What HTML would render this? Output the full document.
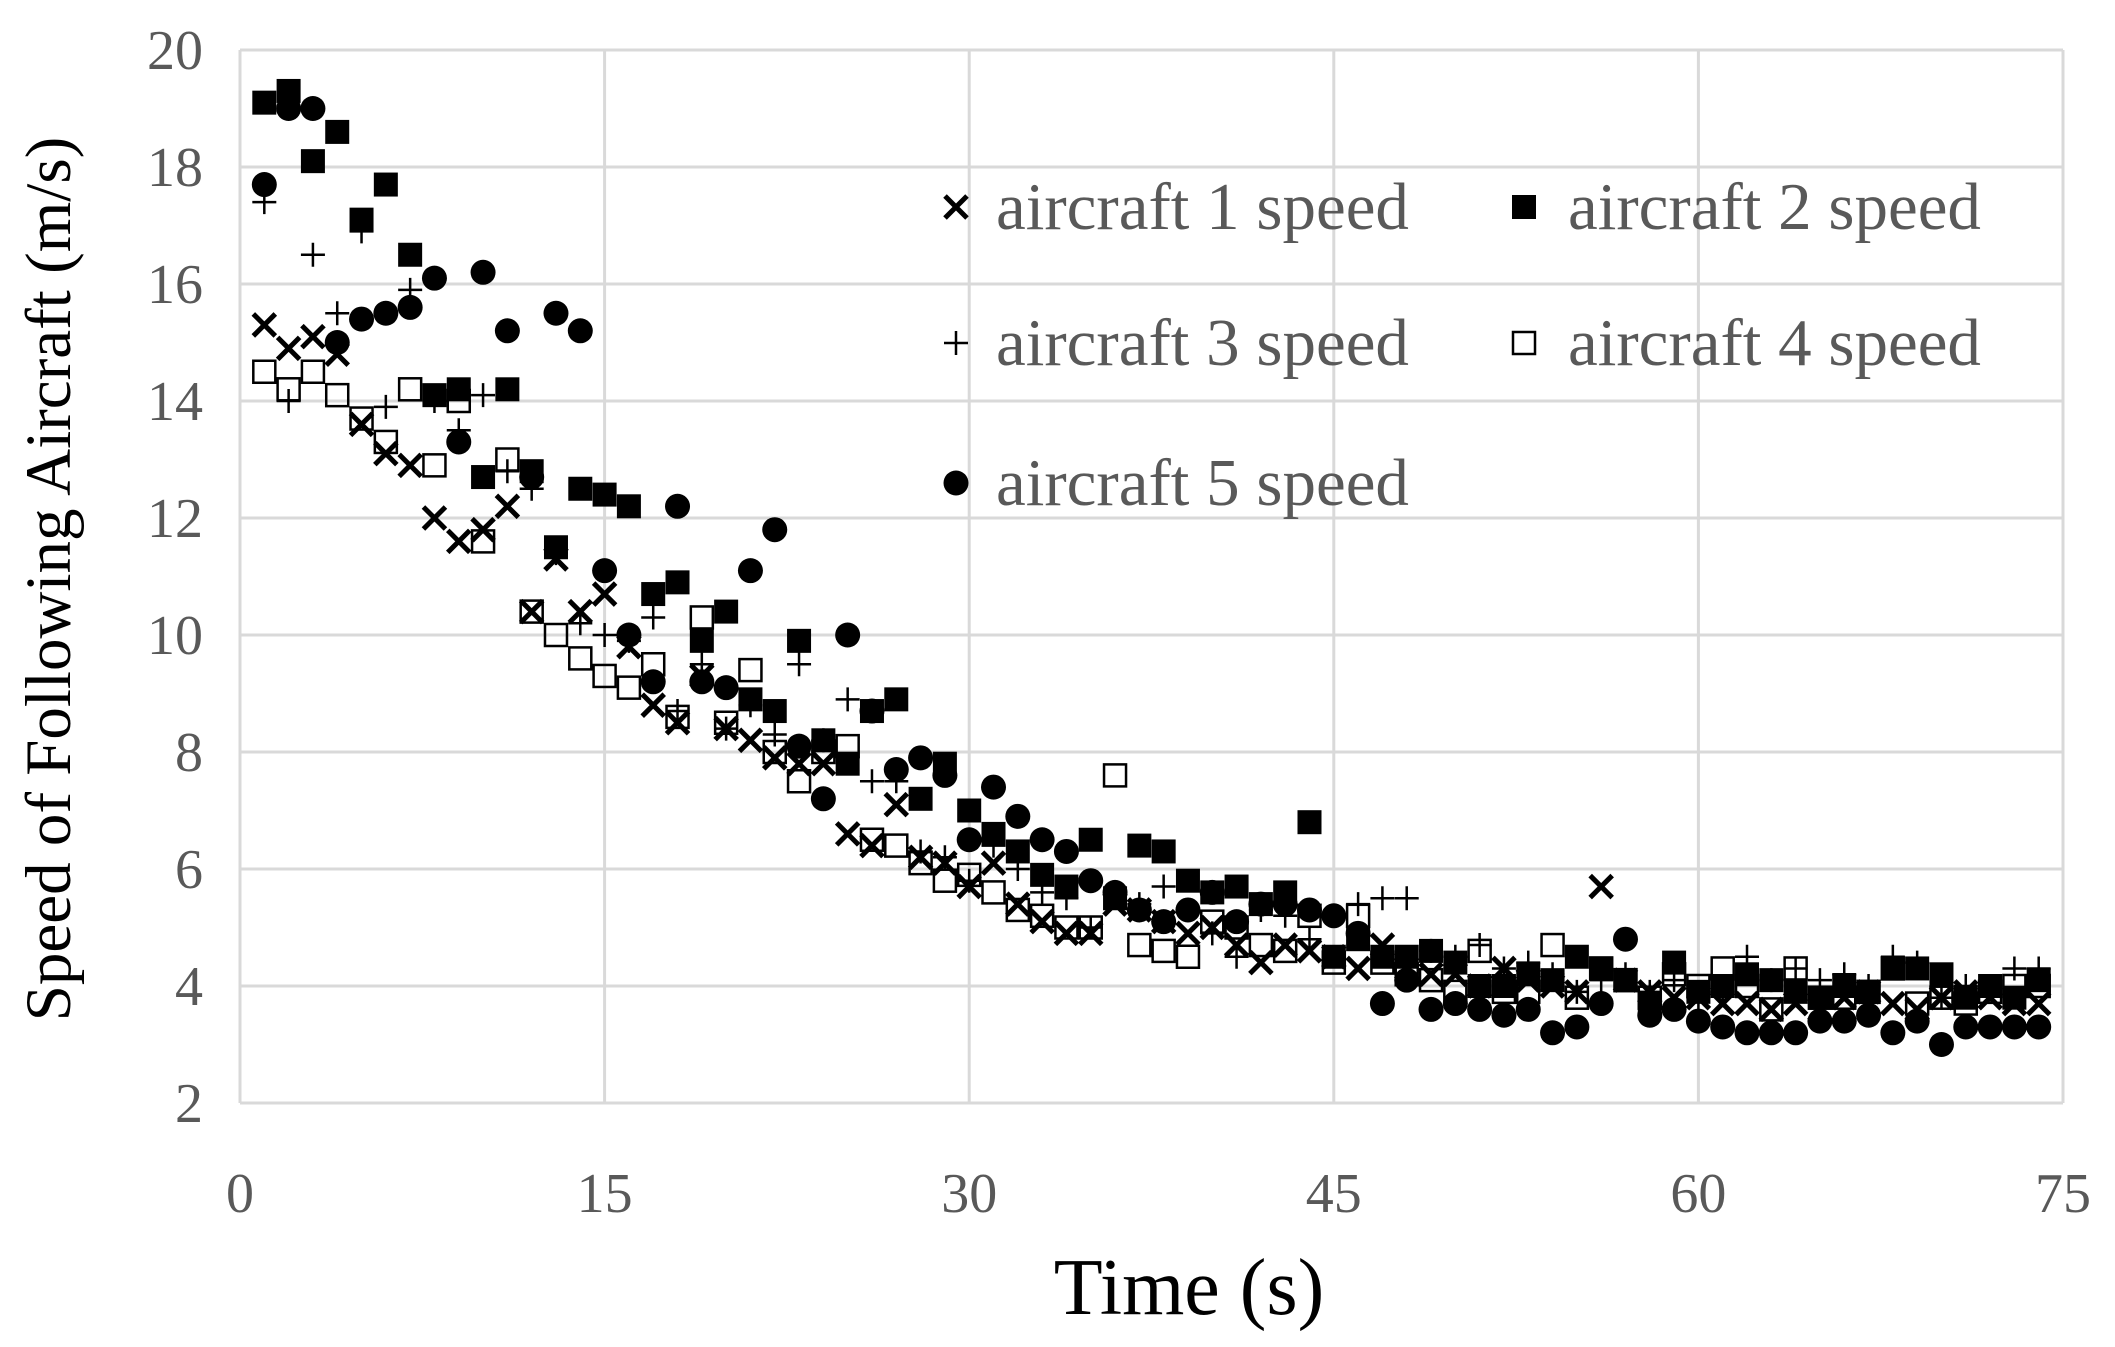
<!DOCTYPE html>
<html><head><meta charset="utf-8"><style>html,body{margin:0;padding:0;background:#fff}svg{display:block}</style></head>
<body>
<svg id="s" width="2115" height="1347" xmlns="http://www.w3.org/2000/svg" font-family="Liberation Serif, serif">
<g id="grid" stroke="#d9d9d9" stroke-width="3"></g>
<g id="ticks" fill="#595959" font-size="56"></g>
<g id="pts"></g>
<text x="1189" y="1314" font-size="80" text-anchor="middle" fill="#000">Time (s)</text>
<text transform="translate(70,579) rotate(-90)" font-size="65" text-anchor="middle" fill="#000">Speed of Following Aircraft (m/s)</text>
<g font-size="67" fill="#595959">
<text x="996" y="229">aircraft 1 speed</text>
<text x="1568" y="229">aircraft 2 speed</text>
<text x="996" y="365">aircraft 3 speed</text>
<text x="1568" y="365">aircraft 4 speed</text>
<text x="996" y="505">aircraft 5 speed</text>
</g>
<g id="leg"></g>
</svg>
<script>
const L=240,R=2063,T=50,B=1103;
const X=t=>L+(R-L)*t/75, Y=v=>B-(B-T)*(v-2)/18;
const NS="http://www.w3.org/2000/svg";
function el(p,tag,a){const e=document.createElementNS(NS,tag);for(const k in a)e.setAttribute(k,a[k]);p.appendChild(e);return e;}
const g=document.getElementById('grid'),tk=document.getElementById('ticks');
for(let v=2;v<=20;v+=2){el(g,'line',{x1:L,x2:R,y1:Y(v),y2:Y(v)});const t=el(tk,'text',{x:203,y:Y(v)+19,'text-anchor':'end'});t.textContent=v;}
for(let t=0;t<=75;t+=15){el(g,'line',{x1:X(t),x2:X(t),y1:T,y2:B});const e=el(tk,'text',{x:X(t),y:1212,'text-anchor':'middle'});e.textContent=t;}
const s1=[15.3,14.9,15.1,14.8,13.6,13.1,12.9,12.0,11.6,11.8,12.2,10.4,11.3,10.4,10.7,9.8,8.8,8.5,9.3,8.4,8.2,7.9,7.8,7.8,6.6,6.4,7.1,6.2,6.1,5.7,6.1,5.4,5.1,4.9,4.9,5.4,5.3,5.1,4.9,5.0,4.7,4.4,4.7,4.6,4.5,4.3,4.7,4.3,4.2,4.2,4.0,4.3,4.1,4.0,3.9,5.7,4.1,3.9,3.8,3.8,3.7,3.7,3.6,3.7,3.6,3.8,3.9,3.7,3.6,3.8,3.9,3.8,3.7,3.7];
const s2=[19.1,19.3,18.1,18.6,17.1,17.7,16.5,14.1,14.2,12.7,14.2,12.8,11.5,12.5,12.4,12.2,10.7,10.9,9.9,10.4,8.9,8.7,9.9,8.2,7.8,8.7,8.9,7.2,7.8,7.0,6.6,6.3,5.9,5.7,6.5,5.5,6.4,6.3,5.8,5.6,5.7,5.4,5.6,6.8,4.5,4.8,4.5,4.5,4.6,4.4,4.0,4.0,4.2,4.1,4.5,4.3,4.1,3.7,4.4,3.9,4.0,4.2,4.1,3.9,3.8,4.0,3.9,4.3,4.3,4.2,3.8,4.0,3.8,4.1];
const s3=[17.4,14.0,16.5,15.5,16.9,13.9,15.9,14.0,13.5,14.1,12.8,12.5,11.4,10.2,10.0,9.9,10.3,8.7,9.5,8.4,8.8,8.3,9.5,8.2,8.9,7.5,7.5,6.3,6.2,5.8,6.4,6.0,5.6,5.5,5.0,5.6,5.4,5.7,5.3,4.9,4.5,5.3,5.2,4.8,5.2,5.4,5.5,5.5,4.6,4.5,4.7,4.3,4.4,4.2,3.9,4.1,4.2,3.9,4.1,3.8,3.9,4.5,4.1,4.3,4.1,4.2,4.0,4.5,4.4,3.8,4.0,4.0,4.3,4.3];
const s4=[14.5,14.2,14.5,14.1,13.7,13.3,14.2,12.9,14.0,11.6,13.0,10.4,10.0,9.6,9.3,9.1,9.5,8.6,10.3,8.5,9.4,8.0,7.5,8.0,8.1,6.5,6.4,6.1,5.8,5.9,5.6,5.3,5.2,5.0,5.0,7.6,4.7,4.6,4.5,5.1,5.0,4.7,4.6,5.2,4.4,5.2,4.4,4.2,4.1,3.9,4.6,3.9,3.9,4.7,3.8,4.3,4.1,3.8,4.2,4.0,4.3,4.0,3.6,4.3,3.8,3.8,3.9,4.3,3.7,3.8,3.7,3.9,4.0,4.0];
const s5=[17.7,19.0,19.0,15.0,15.4,15.5,15.6,16.1,13.3,16.2,15.2,12.7,15.5,15.2,11.1,10.0,9.2,12.2,9.2,9.1,11.1,11.8,8.1,7.2,10.0,8.7,7.7,7.9,7.6,6.5,7.4,6.9,6.5,6.3,5.8,5.6,5.3,5.1,5.3,5.6,5.1,5.4,5.4,5.3,5.2,4.9,3.7,4.1,3.6,3.7,3.6,3.5,3.6,3.2,3.3,3.7,4.8,3.5,3.6,3.4,3.3,3.2,3.2,3.2,3.4,3.4,3.5,3.2,3.4,3.0,3.3,3.3,3.3,3.3];
const P=document.getElementById('pts'),LG=document.getElementById('leg');
const m={
 x:(p,x,y)=>{el(p,'path',{d:`M${x-11} ${y-11}L${x+11} ${y+11}M${x-11} ${y+11}L${x+11} ${y-11}`,stroke:'#000','stroke-width':5});},
 sq:(p,x,y)=>{el(p,'rect',{x:x-12,y:y-12,width:24,height:24,fill:'#000'});},
 pl:(p,x,y)=>{el(p,'path',{d:`M${x-12} ${y}L${x+12} ${y}M${x} ${y-12}L${x} ${y+12}`,stroke:'#000','stroke-width':2.5});},
 os:(p,x,y)=>{el(p,'rect',{x:x-11,y:y-11,width:22,height:22,fill:'none',stroke:'#000','stroke-width':2.5});},
 c:(p,x,y)=>{el(p,'circle',{cx:x,cy:y,r:12.5,fill:'#000'});}
};
[[s1,'x'],[s2,'sq'],[s3,'pl'],[s4,'os'],[s5,'c']].forEach(([s,k])=>s.forEach((v,i)=>m[k](P,X(i+1),Y(v))));
m.x(LG,956,207);m.sq(LG,1524,207);m.pl(LG,956,343);m.os(LG,1524,343);m.c(LG,956,483);
</script>
</body></html>
